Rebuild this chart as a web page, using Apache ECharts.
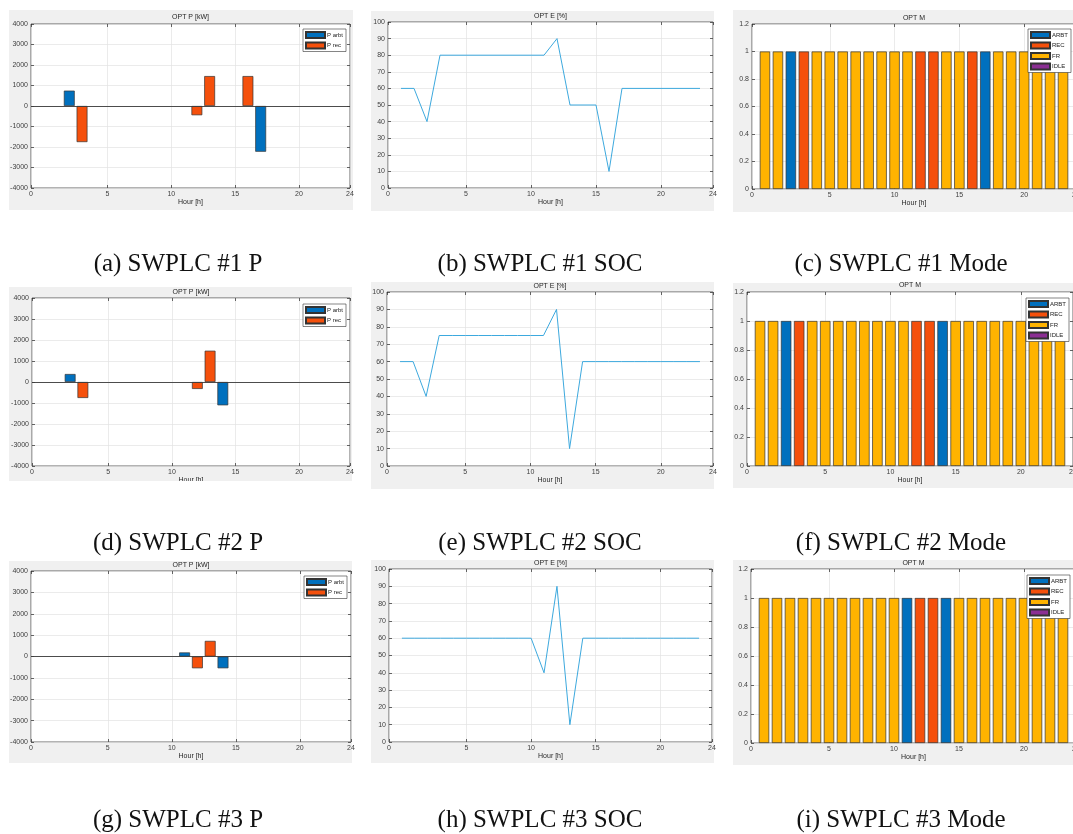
<!DOCTYPE html>
<html>
<head>
<meta charset="utf-8">
<script src="https://cdn.jsdelivr.net/npm/echarts@6/dist/echarts.min.js"></script>
<style>
html, body { margin: 0; padding: 0; background: #fff; }
#main { width: 1073px; height: 834px; }
</style>
</head>
<body>
<div id="main"></div>
<script>
// hours of the day (bar / line positions)
var hours = [0,1,2,3,4,5,6,7,8,9,10,11,12,13,14,15,16,17,18,19,20,21,22,23];
// x tick positions, the first one is labelled "0" like in the figure
var xTicks = [-1, 5, 10, 15, 20, 24];
var modeNames = ['ARBT', 'REC', 'FR', 'IDLE'];

// SWPLC #1
var pArbt1 = [0,0,750,0,0,0,0,0,0,0,0,0,0,0,0,0,0,-2230,0,0,0,0,0,0];
var pRec1  = [0,0,0,-1760,0,0,0,0,0,0,0,0,-450,1460,0,0,1460,0,0,0,0,0,0,0];
var soc1   = [60,60,40,80,80,80,80,80,80,80,80,80,90,50,50,50,10,60,60,60,60,60,60,60];
var mode1  = ['FR','FR','ARBT','REC','FR','FR','FR','FR','FR','FR','FR','FR','REC','REC','FR','FR','REC','ARBT','FR','FR','FR','FR','FR','FR'];

// SWPLC #2
var pArbt2 = [0,0,380,0,0,0,0,0,0,0,0,0,0,0,-1110,0,0,0,0,0,0,0,0,0];
var pRec2  = [0,0,0,-760,0,0,0,0,0,0,0,0,-330,1490,0,0,0,0,0,0,0,0,0,0];
var soc2   = [60,60,40,75,75,75,75,75,75,75,75,75,90,10,60,60,60,60,60,60,60,60,60,60];
var mode2  = ['FR','FR','ARBT','REC','FR','FR','FR','FR','FR','FR','FR','FR','REC','REC','ARBT','FR','FR','FR','FR','FR','FR','FR','FR','FR'];

// SWPLC #3
var pArbt3 = [0,0,0,0,0,0,0,0,0,0,0,190,0,0,-550,0,0,0,0,0,0,0,0,0];
var pRec3  = [0,0,0,0,0,0,0,0,0,0,0,0,-550,730,0,0,0,0,0,0,0,0,0,0];
var soc3   = [60,60,60,60,60,60,60,60,60,60,60,40,90,10,60,60,60,60,60,60,60,60,60,60];
var mode3  = ['FR','FR','FR','FR','FR','FR','FR','FR','FR','FR','FR','ARBT','REC','REC','ARBT','FR','FR','FR','FR','FR','FR','FR','FR','FR'];

var panels = [
  {kind: 'P', arbt: pArbt1, rec: pRec1, caption: '(a) SWPLC #1 P'},
  {kind: 'E', soc: soc1, caption: '(b) SWPLC #1 SOC'},
  {kind: 'M', mode: mode1, caption: '(c) SWPLC #1 Mode'},
  {kind: 'P', arbt: pArbt2, rec: pRec2, caption: '(d) SWPLC #2 P'},
  {kind: 'E', soc: soc2, caption: '(e) SWPLC #2 SOC'},
  {kind: 'M', mode: mode2, caption: '(f) SWPLC #2 Mode'},
  {kind: 'P', arbt: pArbt3, rec: pRec3, caption: '(g) SWPLC #3 P'},
  {kind: 'E', soc: soc3, caption: '(h) SWPLC #3 SOC'},
  {kind: 'M', mode: mode3, caption: '(i) SWPLC #3 Mode'}
];

// layout of each sub figure: gray panel, plot box (l,t,r,b), title y, legend pos
var frames = [
  {bg: [9, 10, 344, 200],  box: [31, 24, 350, 188],   titleY: 17,  legend: [303, 29]},
  {bg: [371, 11, 343, 200], box: [388, 22, 713, 188], titleY: 16},
  {bg: [733, 10, 345, 202], box: [752, 24, 1076, 189], titleY: 18,  legend: [1028, 29]},
  {bg: [9, 287, 343, 194],  box: [32, 298, 350, 466],  titleY: 292, legend: [303, 304]},
  {bg: [371, 282, 343, 207], box: [387, 292, 713, 466], titleY: 286},
  {bg: [733, 283, 345, 205], box: [747, 292, 1073, 466], titleY: 285, legend: [1026, 298]},
  {bg: [9, 561, 343, 202],  box: [31, 571, 351, 742],  titleY: 565, legend: [304, 576]},
  {bg: [371, 560, 343, 203], box: [389, 569, 712, 742], titleY: 563},
  {bg: [733, 560, 345, 205], box: [751, 569, 1076, 743], titleY: 563, legend: [1027, 575]}
];
var captionX = [178, 540, 901];
var captionY = [264, 543, 820];

var FONT = '"Liberation Sans", Arial, sans-serif';
var colors = {ARBT: '#0070BE', REC: '#F5500C', FR: '#FFB300', IDLE: '#8B2F93'};
var edge = '#333333';

var grids = [], xAxes = [], yAxes = [], series = [], legends = [], graphics = [];

function plain(v) { return String(v); }
function bars(arr) {
  // zero hours have no visible bar
  return hours.map(function (h, k) { return [h, arr[k] === 0 ? '-' : arr[k]]; });
}

panels.forEach(function (p, i) {
  var f = frames[i];
  var b = f.box;
  graphics.push({type: 'rect', z: -10, shape: {x: f.bg[0], y: f.bg[1], width: f.bg[2], height: f.bg[3]},
    style: {fill: '#f0f0f0'}});
  var title = p.kind === 'P' ? 'OPT P [kW]' : (p.kind === 'E' ? 'OPT E [%]' : 'OPT M');
  graphics.push({type: 'text', z: 5, x: (b[0] + b[2]) / 2, y: f.titleY,
    style: {text: title, fill: '#262626', fontSize: 7, fontFamily: FONT,
      align: 'center', verticalAlign: 'middle', textAlign: 'center', textVerticalAlign: 'middle'}});
  graphics.push({type: 'text', z: 5, x: captionX[i % 3], y: captionY[Math.floor(i / 3)],
    style: {text: p.caption, fill: '#111', fontSize: 25, fontFamily: '"Liberation Serif", "Times New Roman", serif',
      align: 'center', verticalAlign: 'middle', textAlign: 'center', textVerticalAlign: 'middle'}});

  grids.push({left: b[0], top: b[1], width: b[2] - b[0], height: b[3] - b[1],
    show: true, backgroundColor: '#fff', borderColor: '#262626', borderWidth: 0.7,
    containLabel: false, outerBoundsMode: 'none'});

  var tick = {show: true, inside: true, length: 3, customValues: xTicks, lineStyle: {color: '#262626', width: 0.7}};
  var noLine = {show: false, onZero: false};
  xAxes.push({gridIndex: i, type: 'value', min: -1, max: 24, position: 'bottom',
    name: 'Hour [h]', nameLocation: 'middle', nameGap: 11,
    nameTextStyle: {fontSize: 7, color: '#262626', fontFamily: FONT},
    axisLine: noLine, axisTick: tick,
    axisLabel: {customValues: xTicks, fontSize: 7, color: '#404040', fontFamily: FONT, margin: 3,
      formatter: function (v) { return v === -1 ? '0' : String(v); }},
    splitLine: {show: true, lineStyle: {color: '#e3e3e3', width: 0.7}}});
  xAxes.push({gridIndex: i, type: 'value', min: -1, max: 24, position: 'top',
    axisLine: noLine, axisTick: tick, axisLabel: {show: false}, splitLine: {show: false}});

  var ys = p.kind === 'P' ? [-4000, 4000, 1000] : (p.kind === 'E' ? [0, 100, 10] : [0, 1.2, 0.2]);
  var ytick = {show: true, inside: true, length: 3, lineStyle: {color: '#262626', width: 0.7}};
  yAxes.push({gridIndex: i, type: 'value', min: ys[0], max: ys[1], interval: ys[2], position: 'left',
    axisLine: noLine, axisTick: ytick,
    axisLabel: {fontSize: 7, color: '#404040', fontFamily: FONT, margin: 3, formatter: plain},
    splitLine: {show: true, lineStyle: {color: '#e3e3e3', width: 0.7}}});
  yAxes.push({gridIndex: i, type: 'value', min: ys[0], max: ys[1], interval: ys[2], position: 'right',
    axisLine: noLine, axisTick: ytick, axisLabel: {show: false}, splitLine: {show: false}});

  var xi = 2 * i;
  if (p.kind === 'P') {
    series.push({name: 'P arbt', type: 'bar', stack: 'p' + i, xAxisIndex: xi, yAxisIndex: xi,
      barWidth: '85%', itemStyle: {color: colors.ARBT, borderColor: edge, borderWidth: 0.7},
      data: bars(p.arbt),
      markLine: {silent: true, symbol: 'none', label: {show: false},
        lineStyle: {color: '#3a3a3a', width: 0.9, type: 'solid'}, data: [{yAxis: 0}]}});
    series.push({name: 'P rec', type: 'bar', stack: 'p' + i, xAxisIndex: xi, yAxisIndex: xi,
      barWidth: '85%', itemStyle: {color: colors.REC, borderColor: edge, borderWidth: 0.7},
      data: bars(p.rec)});
  } else if (p.kind === 'E') {
    series.push({name: 'SOC', type: 'line', xAxisIndex: xi, yAxisIndex: xi, symbol: 'none',
      lineStyle: {color: '#3DA9DE', width: 1}, itemStyle: {color: '#3DA9DE'},
      data: hours.map(function (h, k) { return [h, p.soc[k]]; })});
  } else {
    modeNames.forEach(function (m) {
      series.push({name: m, type: 'bar', stack: 'm' + i, xAxisIndex: xi, yAxisIndex: xi,
        barWidth: '80%', itemStyle: {color: colors[m], borderColor: edge, borderWidth: 0.7},
        data: hours.map(function (h, k) { return [h, p.mode[k] === m ? 1 : '-']; })});
    });
  }

  if (f.legend) {
    legends.push({orient: 'vertical', left: f.legend[0], top: f.legend[1],
      data: p.kind === 'P' ? ['P arbt', 'P rec'] : modeNames,
      icon: 'rect', itemWidth: 19, itemHeight: 6, itemGap: 2.5, padding: [2, 3, 2, 2],
      backgroundColor: '#fff', borderColor: '#333', borderWidth: 0.6, borderRadius: 0,
      selectedMode: false,
      textStyle: {fontSize: 6, color: '#222', fontFamily: FONT, padding: [0, 0, 0, -3]}});
  }
});

// the x label of panel (d) is cut off by its panel edge
graphics.push({type: 'rect', z: 100, shape: {x: 0, y: 481, width: 360, height: 16}, style: {fill: '#fff'}});

var myChart = echarts.init(document.getElementById('main'));
var option = {
  backgroundColor: '#fff',
  animation: false,
  grid: grids,
  xAxis: xAxes,
  yAxis: yAxes,
  legend: legends,
  graphic: graphics,
  series: series
};
myChart.setOption(option);
</script>
</body>
</html>
